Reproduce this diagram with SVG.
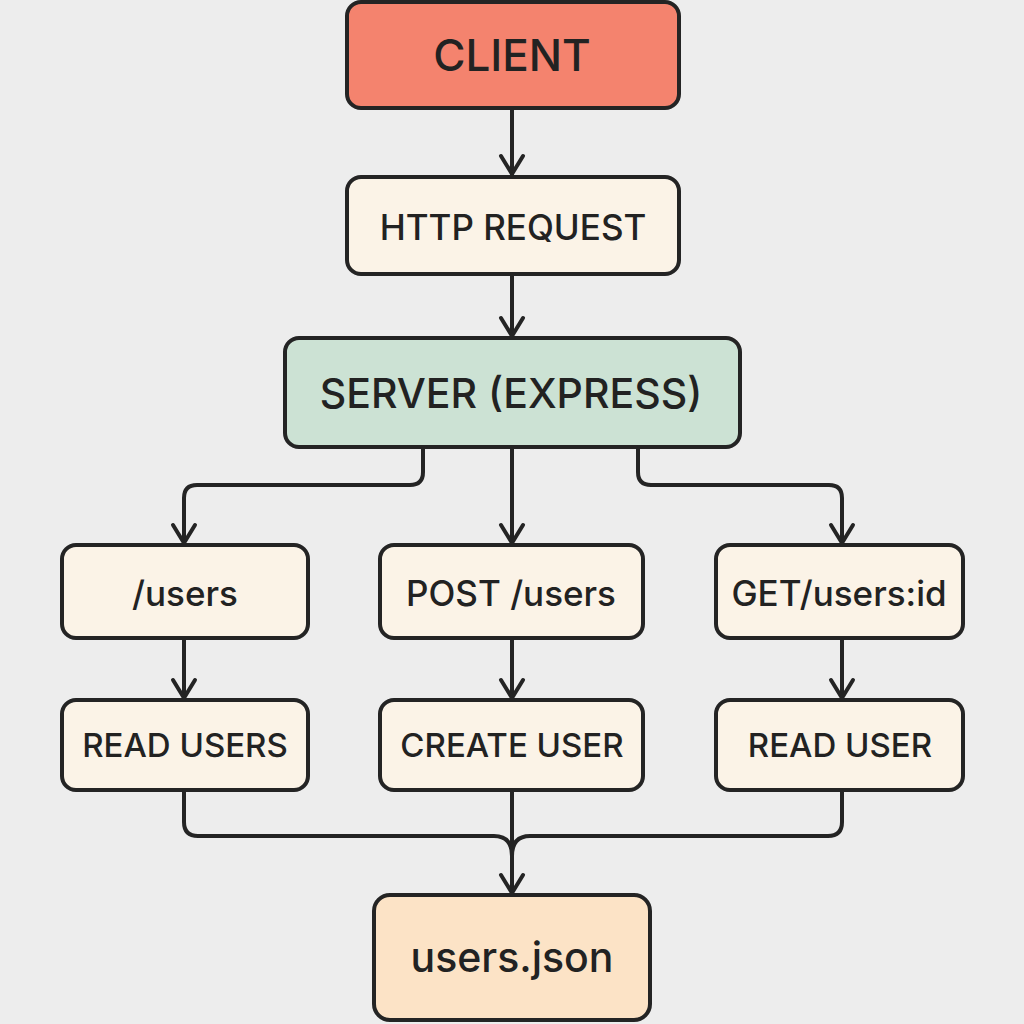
<svg xmlns="http://www.w3.org/2000/svg" width="1024" height="1024" viewBox="0 0 1024 1024">
<defs>
<style>
.box{stroke:#242424;stroke-width:4}
.n{fill:#FBF3E7}
.t{font-family:Inter,"Open Sans","Liberation Sans",sans-serif;font-weight:500;fill:#222;text-anchor:middle;dominant-baseline:central}
.c{fill:none;stroke:#242424;stroke-width:4;stroke-linejoin:round;stroke-linecap:round}
</style>
</defs>
<rect width="1024" height="1024" fill="#EDEDED"/>
<g id="connectors">
<path class="c" d="M512 108 V174"/>
<path class="c" d="M501 156 L512 174 L523 156"/>
<path class="c" d="M512 274 V336"/>
<path class="c" d="M501 318 L512 336 L523 318"/>
<path class="c" d="M423 449 V472 Q423 485 410 485 H197 Q184 485 184 498 V543"/>
<path class="c" d="M173 525 L184 543 L195 525"/>
<path class="c" d="M512 449 V543"/>
<path class="c" d="M501 525 L512 543 L523 525"/>
<path class="c" d="M638 449 V472 Q638 485 651 485 H829 Q842 485 842 498 V543"/>
<path class="c" d="M831 525 L842 543 L853 525"/>
<path class="c" d="M184 640 V698"/>
<path class="c" d="M173 680 L184 698 L195 680"/>
<path class="c" d="M512 640 V698"/>
<path class="c" d="M501 680 L512 698 L523 680"/>
<path class="c" d="M842 640 V698"/>
<path class="c" d="M831 680 L842 698 L853 680"/>
<path class="c" d="M184 792 V822 Q184 836 198 836 H494 Q512 836 512 856"/>
<path class="c" d="M842 792 V822 Q842 836 828 836 H530 Q512 836 512 856"/>
<path class="c" d="M512 792 V893"/>
<path class="c" d="M501 875 L512 893 L523 875"/>
</g>
<g id="client"><rect class="box" x="347" y="2" width="332" height="106" rx="14" fill="#F4836E"/><text class="t" x="512" y="55" font-size="44" font-weight="700">CLIENT</text></g>
<g id="http"><rect class="box n" x="347" y="177" width="332" height="97" rx="14"/><text class="t" x="513" y="227" font-size="35">HTTP REQUEST</text></g>
<g id="server"><rect class="box" x="285" y="338" width="455" height="109" rx="14" fill="#CCE2D4"/><text class="t" x="511" y="393" font-size="41">SERVER (EXPRESS)</text></g>
<g id="users"><rect class="box n" x="62" y="545" width="246" height="93" rx="14"/><text class="t" x="185" y="593" font-size="35">/users</text></g>
<g id="post"><rect class="box n" x="380" y="545" width="263" height="93" rx="14"/><text class="t" x="511" y="593" font-size="35">POST /users</text></g>
<g id="get"><rect class="box n" x="716" y="545" width="247" height="93" rx="14"/><text class="t" x="839" y="593" font-size="35">GET/users:id</text></g>
<g id="readusers"><rect class="box n" x="62" y="700" width="246" height="90" rx="14"/><text class="t" x="185" y="745" font-size="33">READ USERS</text></g>
<g id="createuser"><rect class="box n" x="380" y="700" width="263" height="90" rx="14"/><text class="t" x="512" y="745" font-size="33">CREATE USER</text></g>
<g id="readuser"><rect class="box n" x="716" y="700" width="247" height="90" rx="14"/><text class="t" x="840" y="745" font-size="33">READ USER</text></g>
<g id="usersjson"><rect class="box" x="374" y="895" width="276" height="125" rx="16" fill="#FCE3C6"/><text class="t" x="512" y="957" font-size="41">users.json</text></g>
</svg>
